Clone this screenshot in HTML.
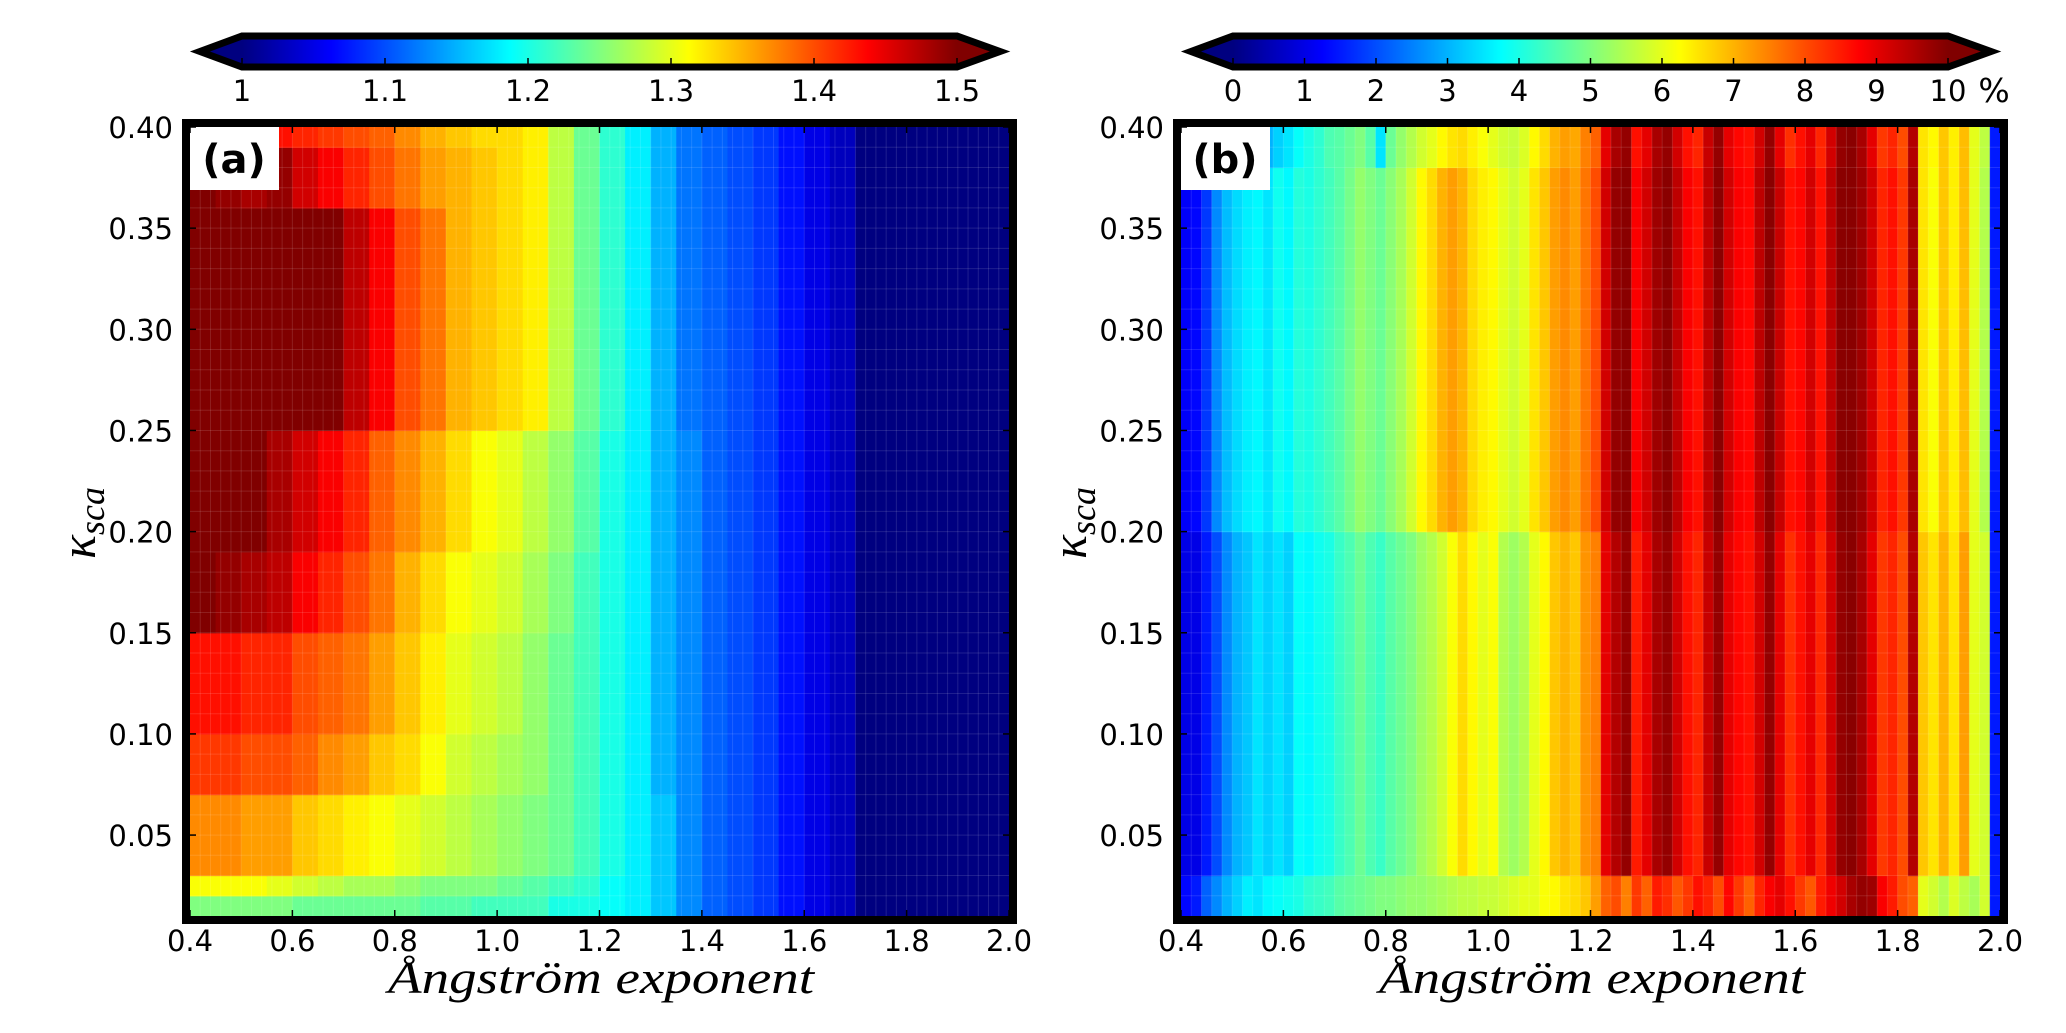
<!DOCTYPE html>
<html><head><meta charset="utf-8"><style>
html,body{margin:0;padding:0;background:#fff;}
svg{display:block;}
</style></head><body>
<svg id="fig" width="2066" height="1033" viewBox="0 0 2066 1033" xmlns="http://www.w3.org/2000/svg" font-family="DejaVu Sans, Liberation Sans, sans-serif">
<g id="panelA"></g>
<g id="panelB"></g>
</svg>
<script>
// ---- Panel (a) data: ratio 1.0-1.5 ----
const aYEdges = [0.01,0.02,0.03,0.07,0.10,0.15,0.19,0.25,0.36,0.39,0.40];
const aXStart = 0.4, aXStep = 0.05;
const aRight = [1.33,1.32,1.28,1.24,1.21,1.18,1.15,1.12,1.11,1.10,1.09,1.07,1.05,1.03,0.98,0.98,0.98,0.98,0.98,0.98];
const aRow0 = [1.25,1.25,1.25,1.25,1.24,1.24,1.24,1.24,1.24,1.23,1.23,1.22,1.22,1.22,1.20,1.20,1.19,1.18,1.16,1.13,1.11,1.10,1.09,1.07,1.05,1.03,0.98,0.98,0.98,0.98,0.98,0.98];
const aRow1 = [1.31,1.31,1.31,1.30,1.29,1.28,1.27,1.27,1.26,1.25,1.25,1.25,1.24,1.23,1.22,1.21,1.19,1.18,1.16,1.13,1.11,1.10,1.09,1.07,1.05,1.03,0.98,0.98,0.98,0.98,0.98,0.98];
const aRow2 = [1.37,1.37,1.36,1.36,1.34,1.33,1.32,1.31,1.30,1.29,1.28,1.27,1.26,1.25,1.24,1.22,1.20,1.18,1.16,1.13,1.11,1.10,1.09,1.07,1.05,1.03,0.98,0.98,0.98,0.98,0.98,0.98];
const aRow3 = [1.41,1.41,1.40,1.40,1.39,1.37,1.36,1.34,1.33,1.31,1.29,1.28,1.27,1.26,1.24,1.22,1.20,1.18,1.15,1.13,1.11,1.10,1.09,1.07,1.05,1.03,0.98,0.98,0.98,0.98,0.98,0.98];
const aRow4 = [1.43,1.43,1.42,1.42,1.40,1.39,1.38,1.36,1.34,1.32,1.30,1.29,1.28,1.26,1.24,1.22,1.20,1.18,1.15,1.13,1.11,1.10,1.09,1.07,1.05,1.03,0.98,0.98,0.98,0.98,0.98,0.98];
const aRow5 = [1.50,1.49,1.48,1.47,1.44,1.42,1.40,1.38,1.35,1.33,1.31,1.30,1.29,1.27,1.25,1.22,1.20,1.18,1.15,1.13,1.11,1.10,1.09,1.07,1.05,1.03,0.98,0.98,0.98,0.98,0.98,0.98];
const aRow6 = [1.51,1.51,1.50,1.48,1.46,1.44,1.42,1.39,1.37,1.35,1.33,1.31,1.30,1.28,1.26,1.23,1.20,1.18,1.15,1.13,1.11,1.10,1.09,1.07,1.05,1.03,0.98,0.98,0.98,0.98,0.98,0.98];
const aRow7 = [1.52,1.52,1.52,1.52,1.52,1.51,1.47,1.44,1.40,1.38,1.35,1.34];
const aRow8 = [1.50,1.49,1.48,1.49,1.46,1.44,1.42,1.40,1.38,1.36,1.35,1.34];
const aRow9 = [1.44,1.43,1.44,1.43,1.42,1.41,1.40,1.39,1.37,1.35,1.34,1.33];
// ---- Panel (b) data: percent 0-10, columns of 0.02 ----
const bYEdges = [0.01,0.03,0.20,0.38,0.40];
const bXStart = 0.4, bXStep = 0.02;
const bBottom = [1.3,1.5,2.2,2.6,3.0,3.3,3.6,3.5,3.7,3.8,3.9,4.0,4.2,4.3,4.4,4.6,4.7,4.8,4.9,5.0,5.0,5.1,5.2,5.2,5.3,5.4,5.5,5.6,5.6,5.7,5.7,5.8,5.9,6.0,6.0,6.2,6.3,6.5,6.6,6.8,7.2,7.8,8.0,7.5,8.2,7.8,8.5,8.3,7.9,8.2,8.6,8.4,8.0,8.7,8.2,7.8,8.4,8.8,9.0,8.6,8.2,7.9,8.5,8.9,9.2,9.6,9.8,9.7,8.8,8.5,8.0,7.8,6.0,5.8,5.5,5.9,5.6,5.4,5.8,1.5];
const bMid = [1.0,1.0,1.5,2.0,2.6,3.0,3.2,3.5,3.3,3.5,3.3,3.8,3.7,3.9,4.0,4.3,4.5,4.8,4.5,4.3,4.6,4.8,5.0,5.3,5.5,5.8,6.2,6.6,6.3,6.0,6.2,5.5,5.3,5.5,6.0,6.3,6.8,7.0,6.8,7.3,7.5,9.0,9.5,9.8,8.5,9.0,9.6,9.8,9.2,8.6,8.4,9.3,9.8,9.0,8.7,8.6,9.2,9.8,9.0,8.3,8.6,9.0,8.4,9.2,9.8,9.9,9.6,9.0,8.2,8.4,8.0,9.5,6.8,6.5,7.0,6.5,7.2,6.0,5.8,1.5];
const bUpper = [1.2,1.3,1.8,2.6,3.1,3.4,3.6,3.7,3.5,3.9,3.7,4.1,4.0,4.2,4.4,4.6,4.9,5.2,5.0,4.8,5.1,5.4,5.8,6.3,6.6,7.0,7.2,7.0,6.6,6.4,6.3,6.0,5.8,6.0,6.5,6.8,7.2,7.4,7.2,7.6,8.0,9.2,9.8,9.9,8.8,9.2,9.7,9.9,9.4,8.8,8.6,9.4,9.9,9.2,8.8,8.7,9.4,9.9,9.3,8.6,8.7,9.2,8.6,9.4,9.9,9.9,9.7,9.2,8.4,8.6,8.2,9.6,6.5,6.2,6.8,6.4,6.9,6.0,5.5,1.5];
const bTop = [2.5,2.5,2.8,3.0,3.3,1.0,1.6,2.6,3.0,3.3,3.5,3.8,4.0,4.2,4.5,4.6,4.8,5.0,4.6,3.5,4.8,5.2,5.5,5.8,6.0,6.3,6.5,6.6,6.4,6.2,6.0,5.8,5.7,5.9,6.3,6.6,7.0,7.2,7.1,7.5,7.8,9.0,9.6,9.8,8.6,9.0,9.6,9.8,9.2,8.6,8.4,9.3,9.8,9.0,8.7,8.6,9.2,9.8,9.0,8.3,8.6,9.0,8.4,9.2,9.8,9.9,9.6,9.0,8.2,8.4,8.0,9.5,6.5,6.3,6.8,6.4,6.9,6.0,5.6,1.5];
// tick labels
const xTicks = [0.4,0.6,0.8,1.0,1.2,1.4,1.6,1.8,2.0];
const xTickLabels = ["0.4","0.6","0.8","1.0","1.2","1.4","1.6","1.8","2.0"];
const yTicks = [0.05,0.10,0.15,0.20,0.25,0.30,0.35,0.40];
const yTickLabels = ["0.05","0.10","0.15","0.20","0.25","0.30","0.35","0.40"];
const cbATicks = [1,1.1,1.2,1.3,1.4,1.5];
const cbATickLabels = ["1","1.1","1.2","1.3","1.4","1.5"];
const cbBTicks = [0,1,2,3,4,5,6,7,8,9,10];
const cbBTickLabels = ["0","1","2","3","4","5","6","7","8","9","10"];

const NS="http://www.w3.org/2000/svg";
function mk(parent,tag,attrs,txt){const e=document.createElementNS(NS,tag);for(const k in attrs)e.setAttribute(k,attrs[k]);if(txt!==undefined)e.textContent=txt;parent.appendChild(e);return e;}
function jet(t){t=Math.max(0,Math.min(1,t));
  const r=Math.max(0,Math.min(1,Math.min(4*t-1.5,-4*t+4.5)));
  const g=Math.max(0,Math.min(1,Math.min(4*t-0.5,-4*t+3.5)));
  const b=Math.max(0,Math.min(1,Math.min(4*t+0.5,-4*t+2.5)));
  return `rgb(${Math.round(r*255)},${Math.round(g*255)},${Math.round(b*255)})`;}
const SERIF='font-family:"Liberation Serif","DejaVu Serif",serif;font-style:italic;';

function drawPanel(g, ox, yEdges, rows, xStart, xStep, vmin, vmax, cbTicks, cbLabels, letter, pct){
  const L=ox+190, R=ox+1009, T=127, B=916;
  const xs=v=>L+(v-0.4)/1.6*(R-L);
  const ys=v=>B-(v-0.01)/0.39*(B-T);
  const cells=mk(g,'g',{});
  
  
  const nCols=Math.round(1.6/xStep);
  for(let r=0;r<rows.length;r++){
    const y0=ys(yEdges[r+1]), y1=ys(yEdges[r]);
    for(let c=0;c<nCols;c++){
      const v=rows[r][c];
      const x0=xs(xStart+c*xStep), x1=xs(xStart+(c+1)*xStep);
      const rc=mk(cells,'rect',{x:x0,y:y0,width:x1-x0+0.6,height:y1-y0+0.6,fill:jet((v-vmin)/(vmax-vmin))});
      
      
    }
  }
  const gl=mk(g,'g',{stroke:'rgba(255,255,255,0.12)','stroke-width':1});
  
  
  for(let k=1;k<39;k++){const y=ys(0.01+k*0.01);mk(gl,'line',{x1:L,x2:R,y1:y,y2:y});}
  for(let k=1;k<80;k++){const x=xs(0.4+k*0.02);mk(gl,'line',{x1:x,x2:x,y1:T,y2:B});}
  const lb=mk(g,'rect',{x:L,y:T,width:89,height:63,fill:'#fff'});
  
  
  const lt=mk(g,'text',{x:L+44,y:T+46,'text-anchor':'middle','font-size':40,'font-weight':'bold'},letter);
  
  
  const fr=mk(g,'rect',{x:L-4,y:T-4,width:R-L+8,height:B-T+8,fill:'none',stroke:'#000','stroke-width':8});
  
  
  const xt=mk(g,'g',{});
  
  
  xTicks.forEach((v,i)=>{const x=xs(v);
    mk(xt,'line',{x1:x,x2:x,y1:B,y2:B-6,stroke:'#000','stroke-width':1.5});
    mk(xt,'line',{x1:x,x2:x,y1:T,y2:T+6,stroke:'#000','stroke-width':1.5});
    const t=mk(xt,'text',{x:x,y:951,'text-anchor':'middle','font-size':29},xTickLabels[i]);
    
    });
  const yt=mk(g,'g',{});
  
  
  yTicks.forEach((v,i)=>{const y=ys(v);
    mk(yt,'line',{x1:L,x2:L+6,y1:y,y2:y,stroke:'#000','stroke-width':1.5});
    mk(yt,'line',{x1:R,x2:R-6,y1:y,y2:y,stroke:'#000','stroke-width':1.5});
    const t=mk(yt,'text',{x:L-17,y:y+11,'text-anchor':'end','font-size':29},yTickLabels[i]);
    
    });
  const xl=mk(g,'text',{x:ox+601,y:993,'text-anchor':'middle','font-size':46,style:SERIF,textLength:426,lengthAdjust:'spacingAndGlyphs'},'Ångström exponent');
  
  
  const yl=mk(g,'text',{transform:`translate(${ox+95},523) rotate(-90)`,'text-anchor':'middle','font-size':50,style:SERIF});
  
  
  mk(yl,'tspan',{},'κ');
  mk(yl,'tspan',{'font-size':36,dy:9},'sca');
  const cb=mk(g,'g',{});
  
  
  const gid='grad'+letter.replace(/\W/g,'');
  const defs=mk(cb,'defs',{});
  const lg=mk(defs,'linearGradient',{id:gid,x1:0,x2:1,y1:0,y2:0});
  for(let k=0;k<=40;k++){mk(lg,'stop',{offset:k/40,'stop-color':jet(k/40)});}
  const cL=ox+242, cR=ox+957, cT=36, cBt=67, cM=(cT+cBt)/2;
  mk(cb,'polygon',{points:`${cL},${cT} ${ox+200},${cM} ${cL},${cBt}`,fill:jet(0)});
  mk(cb,'polygon',{points:`${cR},${cT} ${ox+1000},${cM} ${cR},${cBt}`,fill:jet(1)});
  mk(cb,'rect',{x:cL,y:cT,width:cR-cL,height:cBt-cT,fill:`url(#${gid})`});
  mk(cb,'polygon',{points:`${cL},${cT} ${cR},${cT} ${ox+1000},${cM} ${cR},${cBt} ${cL},${cBt} ${ox+200},${cM}`,fill:'none',stroke:'#000','stroke-width':7,'stroke-linejoin':'miter'});
  cbTicks.forEach((v,i)=>{const x=cL+(v-vmin)/(vmax-vmin)*(cR-cL);
    mk(cb,'line',{x1:x,x2:x,y1:cBt-3,y2:cBt-9,stroke:'#000','stroke-width':1.5});
    const t=mk(cb,'text',{x:x,y:101,'text-anchor':'middle','font-size':29},cbLabels[i]);
    
    });
  if(pct){const p=mk(cb,'text',{x:ox+1003,y:102,'text-anchor':'middle','font-size':33},'%');
    
    }
}
const aRows=[aRow0,aRow1,aRow2,aRow3,aRow4,aRow5,aRow6,aRow7.concat(aRight),aRow8.concat(aRight),aRow9.concat(aRight)];
drawPanel(document.getElementById('panelA'),0,aYEdges,aRows,aXStart,aXStep,1.0,1.5,cbATicks,cbATickLabels,'(a)',false);
const bRows=[bBottom,bMid,bUpper,bTop];
drawPanel(document.getElementById('panelB'),991,bYEdges,bRows,bXStart,bXStep,0,10,cbBTicks,cbBTickLabels,'(b)',true);
</script>
</body></html>
